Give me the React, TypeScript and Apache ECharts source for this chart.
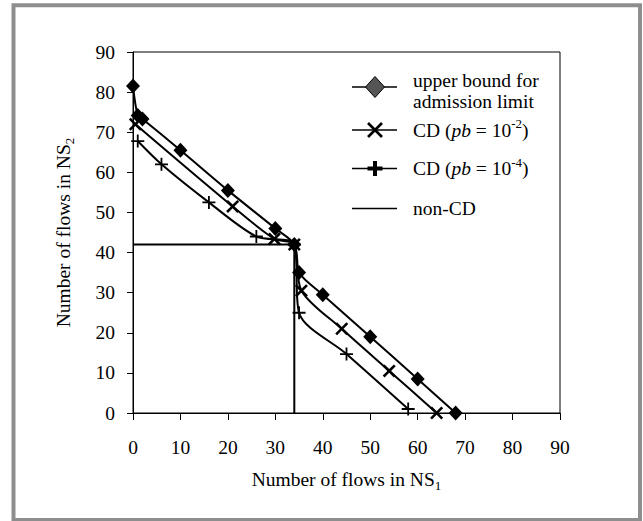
import React, { useEffect, useRef } from 'react';
import * as echarts from 'echarts';

// ---- data ----
const upperBoundX = [0, 1, 2, 10, 20, 30, 34, 35, 40, 50, 60, 68];
const upperBoundY = [81.5, 74.2, 73.3, 65.5, 55.5, 46, 42, 35, 29.5, 19, 8.5, 0];
const cd2X = [0.5, 21, 29.8, 34, 35.5, 44, 54, 64];
const cd2Y = [72, 51.5, 43.4, 42, 30.5, 21, 10.5, 0];
const cd4X = [1, 6, 16, 26, 34, 35, 45, 58];
const cd4Y = [67.8, 62, 52.5, 44, 42, 25, 14.7, 1];
const nonCdX = [0, 34, 34];
const nonCdY = [42, 42, 0];
const axisMin = 0;
const axisMax = 90;
const axisStep = 10;

const legendNames = [
  'upper bound for\nadmission limit',
  'CD ({i|pb} = 10{sup|-2})',
  'CD ({i|pb} = 10{sup|-4})',
  'non-CD',
];

const FONT = "'Liberation Serif', 'Times New Roman', serif";
const FS = 19.5;

const pts = (xs: number[], ys: number[]) => xs.map((x, i) => [x, ys[i]]);

const X_PATH = 'path://M0,1.4L1.4,0L5,3.6L8.6,0L10,1.4L6.4,5L10,8.6L8.6,10L5,6.4L1.4,10L0,8.6L3.6,5Z';
const PLUS_PATH = 'path://M4.3,0H5.7V4.3H10V5.7H5.7V10H4.3V5.7H0V4.3H4.3Z';

export default function App() {
  const ref = useRef<HTMLDivElement>(null);
  useEffect(() => {
    if (!ref.current) return;
    const chart = echarts.init(ref.current, undefined, { renderer: 'svg' });
    const richText = {
      i: { fontFamily: FONT, fontSize: FS, fontStyle: 'italic', fill: '#000', lineHeight: 26 },
      sup: { fontFamily: FONT, fontSize: 13, fill: '#000', verticalAlign: 'top', lineHeight: 13 },
      sub: { fontFamily: FONT, fontSize: 13, fill: '#000', verticalAlign: 'bottom', lineHeight: 13 },
    };
    const baseText = { fontFamily: FONT, fontSize: FS, fill: '#000', lineHeight: 26 };
    const legendX0 = 352;
    const legendX1 = 397;
    const legendCx = 375;
    const textX = 413;
    const rowsY = [90.5, 130, 168.5, 208.5];
    const iconY = [87, 130, 168.5, 208.5];
    const graphic: any[] = [
      {
        type: 'rect',
        shape: { x: 13.5, y: 5.3, width: 626.5, height: 514.7 },
        style: { fill: 'none', stroke: '#8e8e8e', lineWidth: 4 },
        z: 0,
      },
      {
        type: 'text',
        x: 346.5,
        y: 479,
        style: {
          text: 'Number of flows in NS{sub|1}',
          ...baseText,
          rich: richText,
          align: 'center',
          verticalAlign: 'middle',
        },
      },
      {
        type: 'text',
        x: 63,
        y: 232.5,
        rotation: Math.PI / 2,
        style: {
          text: 'Number of flows in NS{sub|2}',
          ...baseText,
          rich: richText,
          align: 'center',
          verticalAlign: 'middle',
        },
      },
    ];
    legendNames.forEach((name, k) => {
      graphic.push({
        type: 'line',
        shape: { x1: legendX0, y1: iconY[k], x2: legendX1, y2: iconY[k] },
        style: { stroke: '#000', lineWidth: 1.6 },
      });
      graphic.push({
        type: 'text',
        x: textX,
        y: rowsY[k],
        style: {
          text: name,
          ...baseText,
          lineHeight: k === 0 ? 21 : 26,
          rich: richText,
          align: 'left',
          verticalAlign: 'middle',
        },
      });
    });
    // legend symbols
    graphic.push({
      type: 'polygon',
      shape: {
        points: [
          [legendCx, iconY[0] - 10.5],
          [legendCx + 9.5, iconY[0]],
          [legendCx, iconY[0] + 10.5],
          [legendCx - 9.5, iconY[0]],
        ],
      },
      style: { fill: '#555555', stroke: '#000', lineWidth: 1 },
    });
    graphic.push(
      {
        type: 'line',
        shape: { x1: legendCx - 7, y1: iconY[1] - 7, x2: legendCx + 7, y2: iconY[1] + 7 },
        style: { stroke: '#000', lineWidth: 2.6 },
      },
      {
        type: 'line',
        shape: { x1: legendCx - 7, y1: iconY[1] + 7, x2: legendCx + 7, y2: iconY[1] - 7 },
        style: { stroke: '#000', lineWidth: 2.6 },
      },
      {
        type: 'line',
        shape: { x1: legendCx - 7.5, y1: iconY[2], x2: legendCx + 7.5, y2: iconY[2] },
        style: { stroke: '#000', lineWidth: 4 },
      },
      {
        type: 'line',
        shape: { x1: legendCx, y1: iconY[2] - 7.5, x2: legendCx, y2: iconY[2] + 7.5 },
        style: { stroke: '#000', lineWidth: 4 },
      }
    );

    const axisCommon = {
      type: 'value',
      min: axisMin,
      max: axisMax,
      interval: axisStep,
      axisLine: { show: true, onZero: false, lineStyle: { color: '#000', width: 1 } },
      splitLine: { show: false },
      axisLabel: { color: '#000', fontSize: FS, fontFamily: FONT },
    };

    chart.setOption({
      animation: false,
      backgroundColor: '#fff',
      grid: {
        left: 133,
        top: 52,
        right: 83,
        bottom: 108,
        containLabel: false,
        show: true,
        borderColor: '#000',
        borderWidth: 1,
        backgroundColor: 'transparent',
      },
      xAxis: {
        ...axisCommon,
        axisTick: { show: true, length: 7, lineStyle: { color: '#000', width: 1 } },
        axisLabel: { ...axisCommon.axisLabel, margin: 24 },
      },
      yAxis: {
        ...axisCommon,
        axisTick: { show: true, length: 6, lineStyle: { color: '#000', width: 1 } },
        axisLabel: { ...axisCommon.axisLabel, margin: 18 },
      },
      graphic,
      series: [
        {
          type: 'line',
          name: 'non-CD',
          data: pts(nonCdX, nonCdY),
          showSymbol: false,
          symbol: 'none',
          lineStyle: { color: '#000', width: 2 },
          z: 1,
        },
        {
          type: 'line',
          name: 'CD 1e-4',
          data: pts(cd4X, cd4Y),
          symbol: PLUS_PATH,
          symbolSize: 13,
          smooth: 0.3,
          itemStyle: { color: '#000' },
          lineStyle: { color: '#000', width: 2 },
          z: 2,
        },
        {
          type: 'line',
          name: 'CD 1e-2',
          data: pts(cd2X, cd2Y),
          symbol: X_PATH,
          symbolSize: 13,
          smooth: 0.3,
          itemStyle: { color: '#000' },
          lineStyle: { color: '#000', width: 2 },
          z: 3,
        },
        {
          type: 'line',
          name: 'upper bound',
          data: pts(upperBoundX, upperBoundY),
          symbol: 'diamond',
          symbolSize: [14, 15],
          smooth: 0.3,
          itemStyle: { color: '#000' },
          lineStyle: { color: '#000', width: 2 },
          z: 4,
        },
      ],
    });
    return () => chart.dispose();
  }, []);
  return (
    <div
      ref={ref}
      style={{ position: 'fixed', left: 0, top: 0, width: 643, height: 521, background: '#fff' }}
    />
  );
}
